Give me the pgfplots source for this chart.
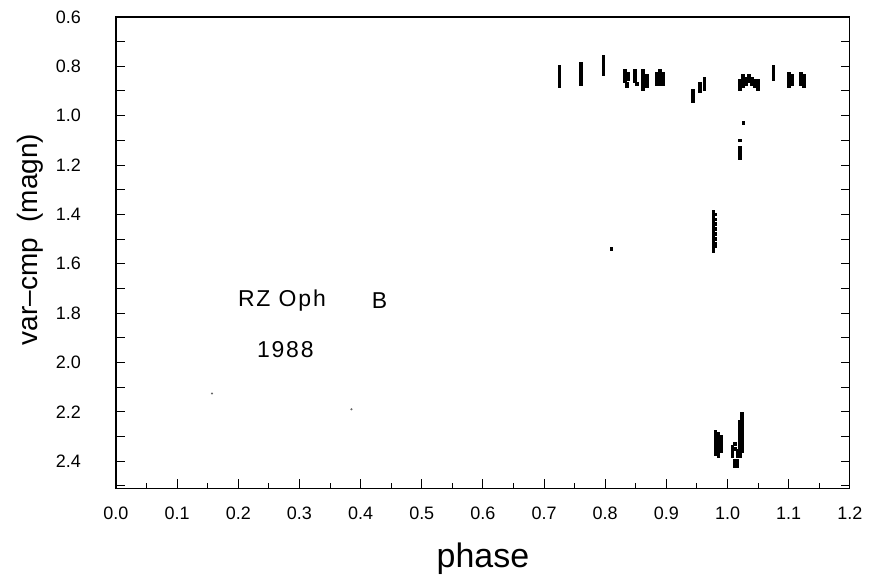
\documentclass[border=0pt]{standalone}
\usepackage{fontspec}
\setmainfont{Liberation Sans}
\usepackage{pgfplots}
\pgfplotsset{compat=1.18}
\begin{document}
\begin{tikzpicture}
\begin{axis}[
  scale only axis,
  width=367.5pt, height=236pt,
  xmin=0, xmax=1.2, ymin=0.6, ymax=2.51,
  y dir=reverse,
  xtick={0,0.1,...,1.21}, minor x tick num=1,
  ytick={0.6,0.7,...,2.51},
  yticklabels={0.6,,0.8,,1.0,,1.2,,1.4,,1.6,,1.8,,2.0,,2.2,,2.4,},
  xtick pos=bottom, ytick pos=both, yticklabel pos=left,
  major tick length=4.5pt, minor tick length=2.5pt,
  tick style={black, line width=0.5pt},
  axis line style={line width=0.6pt},
  /pgf/number format/assume math mode=true,
  /pgf/number format/.cd, fixed, fixed zerofill, precision=1, /pgfplots/.cd,
  ticklabel style={font=\fontsize{9}{10}\selectfont},
  xticklabel style={yshift=-6pt},
  yticklabel style={xshift=-14pt},
  xlabel={phase}, ylabel={var\textendash cmp\ \ (magn)},
  xlabel style={font=\fontsize{17}{19}\selectfont, at={(axis description cs:0.5,-0.150)}, anchor=center},
  ylabel style={font=\fontsize{14}{16}\selectfont, at={(axis description cs:-0.117,0.528)}, anchor=center},
  clip=false,
]
\path (axis description cs:-0.158,-0.193) rectangle (axis description cs:1.0245,1.036);
\addplot[only marks, mark=square*, mark size=0.7pt, black] coordinates {
(0.725,0.80)(0.725,0.81)(0.725,0.82)(0.725,0.83)(0.725,0.84)(0.725,0.85)(0.725,0.86)(0.725,0.87)(0.725,0.88)
(0.760,0.79)(0.760,0.80)(0.760,0.81)(0.760,0.82)(0.760,0.83)(0.760,0.84)(0.760,0.85)(0.760,0.86)(0.760,0.87)
(0.797,0.76)(0.797,0.77)(0.797,0.78)(0.797,0.79)(0.797,0.80)(0.797,0.81)(0.797,0.82)(0.797,0.83)
(0.832,0.82)(0.832,0.83)(0.832,0.84)(0.832,0.85)(0.832,0.86)(0.835,0.87)(0.835,0.88)(0.838,0.83)(0.838,0.84)(0.838,0.85)
(0.848,0.82)(0.848,0.83)(0.848,0.84)(0.848,0.85)(0.848,0.86)(0.852,0.87)
(0.862,0.82)(0.862,0.83)(0.862,0.84)(0.862,0.85)(0.862,0.86)(0.862,0.87)(0.862,0.88)(0.862,0.89)
(0.868,0.84)(0.868,0.85)(0.868,0.86)(0.868,0.87)(0.868,0.88)
(0.885,0.83)(0.885,0.84)(0.885,0.85)(0.885,0.86)(0.885,0.87)
(0.890,0.82)(0.890,0.83)(0.890,0.84)(0.890,0.85)(0.890,0.86)(0.890,0.87)
(0.895,0.83)(0.895,0.84)(0.895,0.85)(0.895,0.86)(0.895,0.87)
(0.943,0.90)(0.943,0.91)(0.943,0.92)(0.943,0.93)(0.943,0.94)
(0.955,0.87)(0.955,0.88)(0.955,0.89)(0.955,0.90)
(0.962,0.85)(0.962,0.86)(0.962,0.87)(0.962,0.88)(0.962,0.89)
(1.020,0.86)(1.020,0.87)(1.020,0.88)(1.020,0.89)
(1.025,0.84)(1.025,0.85)(1.025,0.86)(1.025,0.87)(1.025,0.88)
(1.030,0.85)(1.030,0.86)(1.030,0.87)
(1.035,0.84)(1.035,0.85)(1.035,0.86)
(1.040,0.85)(1.040,0.86)(1.040,0.87)
(1.045,0.86)(1.045,0.87)(1.045,0.88)
(1.050,0.86)(1.050,0.87)(1.050,0.88)(1.050,0.89)
(1.075,0.80)(1.075,0.81)(1.075,0.82)(1.075,0.83)(1.075,0.84)(1.075,0.85)
(1.100,0.83)(1.100,0.84)(1.100,0.85)(1.100,0.86)(1.100,0.87)(1.100,0.88)
(1.105,0.84)(1.105,0.85)(1.105,0.86)(1.105,0.87)
(1.120,0.83)(1.120,0.84)(1.120,0.85)(1.120,0.86)(1.120,0.87)
(1.125,0.84)(1.125,0.85)(1.125,0.86)(1.125,0.87)(1.125,0.88)
(0.810,1.54)
(0.977,1.39)(0.977,1.40)(0.977,1.41)(0.977,1.42)(0.977,1.43)(0.977,1.44)(0.977,1.45)(0.977,1.46)(0.977,1.47)(0.977,1.48)(0.977,1.49)(0.977,1.50)(0.977,1.51)(0.977,1.52)(0.977,1.53)(0.977,1.54)(0.977,1.55)
(0.980,1.40)(0.980,1.42)(0.980,1.44)(0.980,1.46)(0.980,1.48)(0.980,1.50)(0.980,1.52)(0.980,1.53)
(0.980,2.28)(0.980,2.29)(0.980,2.30)(0.980,2.31)(0.980,2.32)(0.980,2.33)(0.980,2.34)(0.980,2.35)(0.980,2.36)(0.980,2.37)
(0.985,2.29)(0.985,2.30)(0.985,2.31)(0.985,2.32)(0.985,2.33)(0.985,2.34)(0.985,2.35)(0.985,2.36)(0.985,2.37)(0.985,2.38)
(0.990,2.30)(0.990,2.31)(0.990,2.32)(0.990,2.33)(0.990,2.34)(0.990,2.35)(0.990,2.36)
(1.008,2.34)(1.008,2.35)(1.008,2.36)(1.008,2.37)(1.008,2.38)
(1.012,2.33)(1.012,2.35)(1.012,2.40)(1.012,2.41)(1.012,2.42)
(1.016,2.36)(1.016,2.37)(1.016,2.38)(1.016,2.40)(1.016,2.41)(1.016,2.42)
(1.020,2.24)(1.020,2.25)(1.020,2.26)(1.020,2.27)(1.020,2.28)(1.020,2.29)(1.020,2.30)(1.020,2.31)(1.020,2.32)(1.020,2.33)(1.020,2.34)(1.020,2.35)(1.020,2.36)(1.020,2.37)(1.020,2.38)
(1.023,2.21)(1.023,2.22)(1.023,2.23)(1.023,2.24)(1.023,2.25)(1.023,2.26)(1.023,2.27)(1.023,2.28)(1.023,2.29)(1.023,2.30)(1.023,2.31)(1.023,2.32)(1.023,2.33)(1.023,2.34)(1.023,2.35)(1.023,2.36)
(1.020,1.10)(1.020,1.13)(1.020,1.14)(1.020,1.15)(1.020,1.16)(1.020,1.17)
(1.026,1.03)
};
\addplot[only marks, mark=*, mark size=0.3pt, black!60] coordinates {(0.157,2.126)(0.385,2.19)};
\node[font=\fontsize{11.5}{13}\selectfont\addfontfeature{LetterSpace=8}, anchor=west, inner sep=0pt] at (axis cs:0.199,1.751) {RZ Oph};
\node[font=\fontsize{11.5}{13}\selectfont, anchor=west, inner sep=0pt] at (axis cs:0.418,1.751) {B};
\node[font=\fontsize{11.5}{13}\selectfont\addfontfeature{LetterSpace=8}, anchor=west, inner sep=0pt] at (axis cs:0.230,1.947) {1988};
\end{axis}
\end{tikzpicture}
\end{document}
